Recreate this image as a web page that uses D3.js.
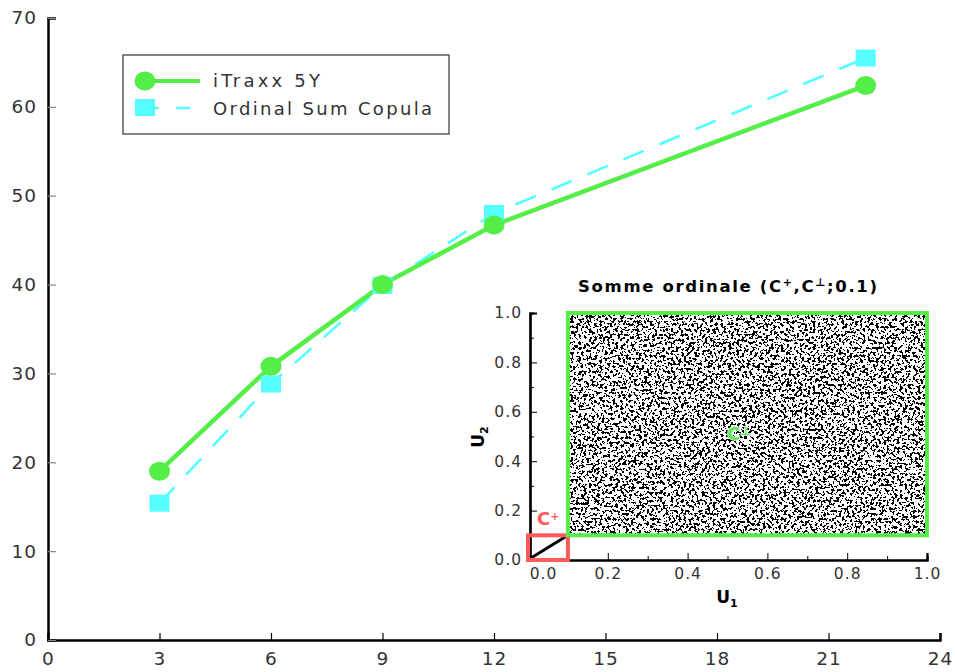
<!DOCTYPE html>
<html><head><meta charset="utf-8">
<script src="https://cdn.jsdelivr.net/npm/d3@7"></script>
<style>body{margin:0;background:#fff}svg{display:block}text{font-family:"DejaVu Sans",Arial,sans-serif}</style>
</head><body>
<svg id="c" width="955" height="672"></svg>
<script>
const maturities = [3, 6, 9, 12, 22];
const itraxx = [19.0, 30.8, 40.0, 46.7, 62.4];
const ordinalSum = [15.4, 28.8, 39.9, 48.0, 65.5];
const xTicks = [0, 3, 6, 9, 12, 15, 18, 21, 24];
const yTicks = [0, 10, 20, 30, 40, 50, 60, 70];
const seriesNames = ["iTraxx 5Y", "Ordinal Sum Copula"];
const insetTicks = [0, 0.2, 0.4, 0.6, 0.8, 1.0];
const insetMinor = [0.1, 0.3, 0.5, 0.7, 0.9];
const theta = 0.1;

const GREEN = "#55ee48", CYAN = "#55ffff", RED = "#ff5a5a";
const svg = d3.select("#c");
const x = d3.scaleLinear().domain([0, 24]).range([48, 940]);
const y = d3.scaleLinear().domain([0, 70]).range([640, 18]);

// main axes
const gx = svg.append("g").attr("transform", `translate(0,${y(0)})`)
  .call(d3.axisBottom(x).tickValues(xTicks).tickSize(-7).tickPadding(12).tickFormat(d3.format("d")));
const gy = svg.append("g").attr("transform", `translate(${x(0)},0)`)
  .call(d3.axisLeft(y).tickValues(yTicks).tickSize(-8).tickPadding(11).tickFormat(d3.format("d")));
[gx, gy].forEach(g => {
  g.select(".domain").attr("stroke", "#000").attr("stroke-width", 2.5);
  g.selectAll(".tick line").attr("stroke", "#000").attr("stroke-width", 1.2);
  g.selectAll(".tick text").attr("font-size", 18.5).attr("fill", "#333").style("letter-spacing", "1px");
});
gy.selectAll(".tick line").attr("stroke", "#888");
gx.selectAll(".tick text").attr("dy", "0.71em");

// series
const ptsA = maturities.map((m, i) => [m, itraxx[i]]);
const ptsB = maturities.map((m, i) => [m, ordinalSum[i]]);
const line = d3.line().x(d => x(d[0])).y(d => y(d[1]));
svg.append("path").attr("d", line(ptsB)).attr("fill", "none").attr("stroke", CYAN)
  .attr("stroke-width", 2.6).attr("stroke-dasharray", "22,17");
svg.append("path").attr("d", line(ptsA)).attr("fill", "none").attr("stroke", GREEN).attr("stroke-width", 4.5);
svg.selectAll("rect.sq").data(ptsB).join("rect").attr("class", "sq")
  .attr("x", d => x(d[0]) - 10).attr("y", d => y(d[1]) - 8.5).attr("width", 20).attr("height", 17).attr("fill", CYAN);
svg.selectAll("ellipse.ci").data(ptsA).join("ellipse").attr("class", "ci")
  .attr("cx", d => x(d[0])).attr("cy", d => y(d[1])).attr("rx", 10.5).attr("ry", 9.5).attr("fill", GREEN);

// legend
const lg = svg.append("g");
lg.append("rect").attr("x", 123).attr("y", 55).attr("width", 326).attr("height", 79)
  .attr("fill", "#fff").attr("stroke", "#333").attr("stroke-width", 1.2);
lg.append("line").attr("x1", 145).attr("x2", 200).attr("y1", 81).attr("y2", 81).attr("stroke", GREEN).attr("stroke-width", 4);
lg.append("ellipse").attr("cx", 145).attr("cy", 81).attr("rx", 10.5).attr("ry", 9.5).attr("fill", GREEN);
lg.append("line").attr("x1", 145).attr("x2", 198).attr("y1", 108).attr("y2", 108).attr("stroke", CYAN)
  .attr("stroke-width", 2.4).attr("stroke-dasharray", "14,17");
lg.append("rect").attr("x", 135).attr("y", 99).attr("width", 20).attr("height", 17).attr("fill", CYAN);
lg.selectAll("text").data(seriesNames).join("text")
  .attr("x", 213).attr("y", (d, i) => 87 + i * 28).attr("font-size", 18).attr("fill", "#333")
  .attr("textLength", (d, i) => i === 0 ? 107 : 219).attr("lengthAdjust", "spacing").text(d => d);

// inset
const ix = d3.scaleLinear().domain([0, 1]).range([528, 927]);
const iy = d3.scaleLinear().domain([0, 1]).range([560, 313]);
const defs = svg.append("defs");
const f = defs.append("filter").attr("id", "speck").attr("x", 0).attr("y", 0).attr("width", 1).attr("height", 1);
f.append("feTurbulence").attr("type", "fractalNoise").attr("baseFrequency", 0.38).attr("numOctaves", 2).attr("seed", 7).attr("result", "n");
f.append("feColorMatrix").attr("in", "n").attr("type", "matrix")
  .attr("values", "0 0 0 0 0  0 0 0 0 0  0 0 0 0 0  1 0 0 0 0").attr("result", "a");
f.append("feComponentTransfer").attr("in", "a").attr("result", "t")
  .append("feFuncA").attr("type", "discrete").attr("tableValues", "0 0 0 0 0 0 0 0 0 0 0 1 1 1 1 1 1 1 1 1");
f.append("feFlood").attr("flood-color", "#fff").attr("result", "w");
f.append("feMerge").selectAll("feMergeNode").data(["w", "t"]).join("feMergeNode").attr("in", d => d);

svg.append("rect").attr("x", ix(theta)).attr("y", iy(1)).attr("width", ix(1) - ix(theta)).attr("height", iy(theta) - iy(1))
  .attr("fill", "#000").attr("filter", "url(#speck)");

const igx = svg.append("g").attr("transform", `translate(0,${iy(0)})`)
  .call(d3.axisBottom(ix).tickValues(insetTicks).tickSize(-7).tickPadding(8).tickFormat(d3.format(".1f")));
igx.append("g").call(d3.axisBottom(ix).tickValues(insetMinor).tickSize(-4).tickFormat(""));
const igy = svg.append("g").attr("transform", `translate(${ix(0) + 2},0)`)
  .call(d3.axisLeft(iy).tickValues(insetTicks).tickSize(-7).tickPadding(8).tickFormat(d3.format(".1f")));
igy.append("g").call(d3.axisLeft(iy).tickValues(insetMinor).tickSize(-4).tickFormat(""));
[igx, igy].forEach(g => {
  g.selectAll(".domain").attr("stroke", "#000").attr("stroke-width", 2.2);
  g.selectAll(".tick line").attr("stroke", "#000").attr("stroke-width", 1);
  g.selectAll(".tick text").attr("font-size", 15.5).attr("fill", "#333").style("letter-spacing", "1px");
});
igx.selectAll(".tick text").filter(d => d === 0).attr("dx", 15);

// C+ region and C⊥ region boxes
svg.append("line").attr("x1", ix(0) + 3).attr("y1", iy(0) - 2).attr("x2", ix(theta)).attr("y2", iy(theta))
  .attr("stroke", "#000").attr("stroke-width", 3);
svg.append("rect").attr("x", ix(0)).attr("y", iy(theta)).attr("width", ix(theta) - ix(0)).attr("height", iy(0) - iy(theta))
  .attr("fill", "none").attr("stroke", RED).attr("stroke-width", 4);
svg.append("rect").attr("x", ix(theta)).attr("y", iy(1)).attr("width", ix(1) - ix(theta)).attr("height", iy(theta) - iy(1))
  .attr("fill", "none").attr("stroke", GREEN).attr("stroke-width", 4);

// labels
const t = svg.append("text").attr("x", 578).attr("y", 292)
  .attr("font-size", 16.5).attr("font-weight", "bold").attr("textLength", 299).attr("lengthAdjust", "spacing");
t.append("tspan").text("Somme ordinale (C");
t.append("tspan").attr("dy", -6).attr("font-size", 11).text("+");
t.append("tspan").attr("dy", 6).text(",C");
t.append("tspan").attr("dy", -6).attr("font-size", 11).text("⊥");
t.append("tspan").attr("dy", 6).text(";0.1)");

const u1 = svg.append("text").attr("x", 727).attr("y", 603).attr("text-anchor", "middle").attr("font-size", 17).attr("font-weight", "bold");
u1.append("tspan").text("U");
u1.append("tspan").attr("dy", 4).attr("font-size", 11).text("1");
const u2 = svg.append("text").attr("transform", "translate(484,437) rotate(-90)").attr("text-anchor", "middle").attr("font-size", 17).attr("font-weight", "bold");
u2.append("tspan").text("U");
u2.append("tspan").attr("dy", 4).attr("font-size", 11).text("2");

const cp = svg.append("text").attr("x", 537).attr("y", 525).attr("font-size", 18).attr("font-weight", "bold").attr("fill", RED);
cp.append("tspan").text("C");
cp.append("tspan").attr("dy", -5).attr("font-size", 11).text("+");
const cb = svg.append("text").attr("x", 727).attr("y", 440).attr("font-size", 18).attr("font-weight", "bold").attr("fill", GREEN)
  .attr("stroke", "#fff").attr("stroke-width", 1.5).attr("paint-order", "stroke");
cb.append("tspan").text("C");
cb.append("tspan").attr("dy", -5).attr("font-size", 12).text("⊥");
</script>
</body></html>
